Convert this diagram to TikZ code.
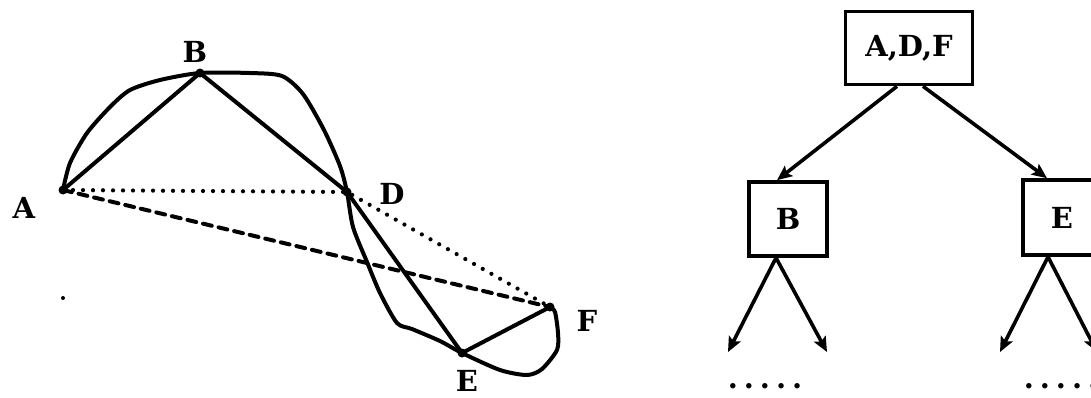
\documentclass[tikz,border=0pt]{standalone}
\usepackage{fontspec}
\setmainfont{DejaVu Serif}
\usetikzlibrary{arrows.meta,positioning}
\tikzset{
  vtx/.style  ={circle,fill=black,inner sep=0pt,minimum size=4.5pt},
  lbl/.style  ={font=\fontsize{14.5}{16}\selectfont\bfseries,inner sep=0pt},
  edg/.style  ={line width=2pt,line join=round,line cap=round},
  dotln/.style={line width=2.1pt,line cap=round,dash pattern=on 0pt off 5pt},
  dshln/.style={line width=2pt,line cap=round,dash pattern=on 4.5pt off 3.5pt},
  box/.style  ={draw,line width=1.8pt,inner sep=0pt,
                font=\fontsize{14.5}{16}\selectfont\bfseries},
  arr/.style  ={-{Stealth[length=7.5pt,width=6.5pt,inset=1.5pt]},line width=1.8pt},
  more/.style ={font=\fontsize{14.5}{16}\selectfont\bfseries,inner sep=0pt},
}

\begin{document}
\begin{tikzpicture}[x=0.5pt,y=-0.5pt]
\clip (0,0) rectangle (1091,397);

% graph
\coordinate (A) at (63,190);
\coordinate (B) at (200,73);
\coordinate (D) at (347,192);
\coordinate (E) at (462,353);
\coordinate (F) at (550,307);

\draw[edg] plot[smooth,tension=0.45] coordinates {
  (A) (70,163) (87,133) (110,107) (130,90) (160,80) (B)
  (250,73) (282,76) (303,94) (324,130) (340,166) (D)
  (353,227) (367,262) (380,293) (397,323) (412,329) (440,341) (E)
  (500,370) (527,375) (542,369) (557,350) (558,333) (555,312) (F)};

\draw[edg] (A) -- (B) -- (D) -- (E) -- (F);
\draw[dotln] (A) -- (D) -- (F);
\draw[dshln] (A) -- (F);

\foreach \p in {A,B,D,E,F} \node[vtx] at (\p) {};
\node[circle,fill=black,inner sep=0pt,minimum size=2pt] (speck) at (63,298) {};

\node[lbl] (lA) at (24,208) {A};
\node[lbl] (lB) at (195,52)  {B};
\node[lbl] (lD) at (392,194) {D};
\node[lbl] (lE) at (467,381) {E};
\node[lbl] (lF) at (587,321) {F};

% tree
\node[box,minimum width=63.5pt,minimum height=36.5pt] (adf) at (909,48)  {A,D,F};
\node[box,minimum width=39pt,minimum height=37pt]     (nb)  at (788,219) {B};
\node[box,minimum width=39pt,minimum height=37.5pt]   (ne)  at (1062,217.5) {E};

\draw[arr] ([xshift=-6pt]adf.south) -- ([xshift=-5.5pt]nb.north);
\draw[arr] ([xshift=7pt]adf.south)  -- ([xshift=-7.5pt]ne.north);

\coordinate (b1) at (728,352);
\coordinate (b2) at (827,352);
\coordinate (e1) at (1000,352);
\coordinate (e2) at (1097,352);
\draw[arr] ([xshift=-6pt]nb.south) -- (b1);
\draw[arr] ([xshift=-6pt]nb.south) -- (b2);
\draw[arr] ([xshift=-7pt]ne.south) -- (e1);
\draw[arr] ([xshift=-7pt]ne.south) -- (e2);

\node[more] (mb) at (765,386) {.\kern3pt.\kern3pt.\kern3pt.\kern3pt.};
\node[more] (me) at (1061,386) {.\kern3pt.\kern3pt.\kern3pt.\kern3pt.};
\end{tikzpicture}
\end{document}
